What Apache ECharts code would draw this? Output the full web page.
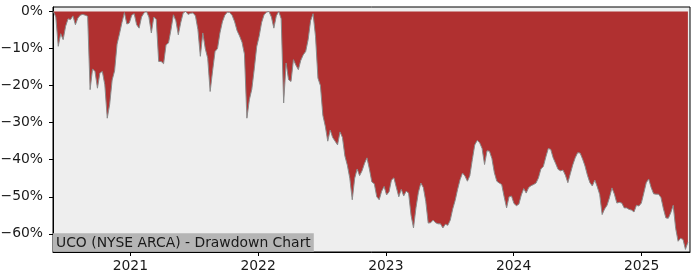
<!DOCTYPE html>
<html>
<head>
<meta charset="utf-8">
<script src="https://cdn.jsdelivr.net/npm/echarts@6/dist/echarts.min.js"></script>
<style>
html,body{margin:0;padding:0;background:#fff;}
#chart{width:700px;height:280px;}
</style>
</head>
<body>
<div id="chart"></div>
<script>
// Weekly drawdown readings (%), first week starting 2020-05-26
const startDate = [2020, 4, 26];
const stepDays = 7;
const drawdown = [
  0, -1.5, -9.4, -6, -7.6, -4, -2, -2.2, -1.2, -3.6,
  -1.8, -1, -0.8, -1, -1.3, -21.1, -15.5, -16.2, -20.7, -16.6,
  -16.2, -19.8, -28.8, -25, -18.5, -16, -8.8, -6, -3, -0.3,
  -3.4, -3.1, -1, -0.6, -3.6, -4.5, -1.5, -0.4, 0, -1.5,
  -5.8, -1.5, -2.2, -13.5, -13.5, -14.1, -9, -8.5, -5, -0.9,
  -2.5, -6.3, -3, -0.4, 0, -0.8, -0.5, -0.4, -1.2, -4.9,
  -12.1, -5.8, -10, -12.6, -21.6, -16, -10.8, -10, -5.8, -2.8,
  -1, -0.2, -0.3, -1.1, -2.8, -5.2, -6.6, -8.3, -11.5, -28.8,
  -23.8, -21, -15.5, -9.5, -6.7, -3, -0.9, -0.2, 0, -1.5,
  -4.5, -1.2, 0, -2, -24.7, -13.9, -18.4, -18.9, -13, -14.5,
  -15.7, -13.2, -11.7, -10.8, -7.6, -2.5, -0.6, -6.7, -18, -20,
  -28, -31, -35, -32, -34, -35, -36, -32.5, -34, -39,
  -41.5, -45, -50.8, -45, -42.5, -44.3, -43, -41, -39.5, -42.5,
  -46, -46.5, -50, -50.8, -48.5, -47.2, -49.5, -48.7, -45.5, -44.9,
  -47.5, -50, -48, -49.8, -48.5, -49, -55, -58.4, -53, -48.8,
  -46.3, -47.5, -51.2, -57.1, -57, -56.3, -57, -57.3, -57.3, -58.4,
  -57.4, -57.7, -56.3, -53.3, -51, -48, -45.4, -43.6, -44.4, -45.8,
  -44.3, -40, -36, -34.8, -35.4, -37, -41.3, -37.6, -37.7, -39.7,
  -43.5, -45.8, -46.3, -46.7, -50, -53, -50, -49.8, -51.8, -52.4,
  -52, -49.5, -47.8, -49, -47.5, -47, -46.7, -46.3, -44.9, -42.5,
  -41.8, -39.3, -37, -37.2, -39.5, -41, -42.6, -43, -42.8, -44.2,
  -46.2, -43.8, -41.4, -39.5, -38.1, -38.2, -39.8, -41.7, -44.2, -46.2,
  -47.1, -45.5, -47.3, -49.4, -54.8, -53.3, -52.3, -50.2, -47.6, -49.3,
  -51.7, -51.5, -51.7, -53, -53, -53.4, -53.6, -54.1, -52.3, -52.5,
  -51.7, -49, -46.2, -45.2, -47.5, -49.2, -49.3, -49.3, -50.2, -53.2,
  -55.7, -55.8, -54.3, -52.3, -58.5, -62, -61.2, -61.5, -64.2, -62.3
];
const yTicks = [0, -10, -20, -30, -40, -50, -60];
const xTickYears = [2021, 2022, 2023, 2024, 2025];
const titleText = 'UCO (NYSE ARCA) - Drawdown Chart';

const t0 = new Date(startDate[0], startDate[1], startDate[2]).getTime();
const dayMs = 86400000;
const seriesData = drawdown.map((v, i) => [t0 + i * stepDays * dayMs, v]);
const xTickVals = xTickYears.map(y => new Date(y, 0, 1).getTime());

const chart = echarts.init(document.getElementById('chart'), null, {renderer: 'canvas'});
const font = 'DejaVu Sans';
const fs = 13.9;
chart.setOption({
  animation: false,
  backgroundColor: '#ffffff',
  title: {
    text: titleText,
    left: 53,
    bottom: 28.3,
    backgroundColor: '#b5b5b5',
    padding: [2, 3, 1, 3],
    textStyle: {fontFamily: font, fontSize: fs, fontWeight: 'normal', color: '#1a1a1a', lineHeight: 15.4}
  },
  grid: {
    left: 53, right: 10, top: 7, bottom: 28,
    containLabel: false,
    outerBoundsMode: 'none',
    show: true, backgroundColor: '#eeeeee', borderColor: '#000', borderWidth: 1
  },
  xAxis: {
    type: 'value',
    min: new Date(2020, 4, 25).getTime(),
    max: new Date(2025, 4, 19).getTime(),
    splitLine: {show: false},
    axisLine: {show: true, onZero: false, lineStyle: {color: '#000', width: 1}},
    axisTick: {show: true, length: 4, lineStyle: {color: '#000'}, customValues: xTickVals},
    axisLabel: {
      customValues: xTickVals,
      margin: 7,
      fontFamily: font, fontSize: fs, color: '#1a1a1a',
      formatter: v => String(new Date(v).getFullYear())
    }
  },
  yAxis: {
    type: 'value',
    min: -64.9, max: 1.2,
    splitLine: {show: false},
    axisLine: {show: true, lineStyle: {color: '#000', width: 1}},
    axisTick: {show: true, length: 4, lineStyle: {color: '#000'}, customValues: yTicks},
    axisLabel: {
      customValues: yTicks,
      margin: 10,
      fontFamily: font, fontSize: fs, color: '#1a1a1a',
      formatter: v => (v < 0 ? '\u2212' + Math.abs(v) : String(v)) + '%'
    }
  },
  series: [{
    type: 'line',
    data: seriesData,
    showSymbol: false,
    symbol: 'none',
    lineStyle: {color: '#8a8a8a', width: 1},
    areaStyle: {color: '#b03030', opacity: 1, origin: 0},
    z: 2
  }]
});
</script>
</body>
</html>
